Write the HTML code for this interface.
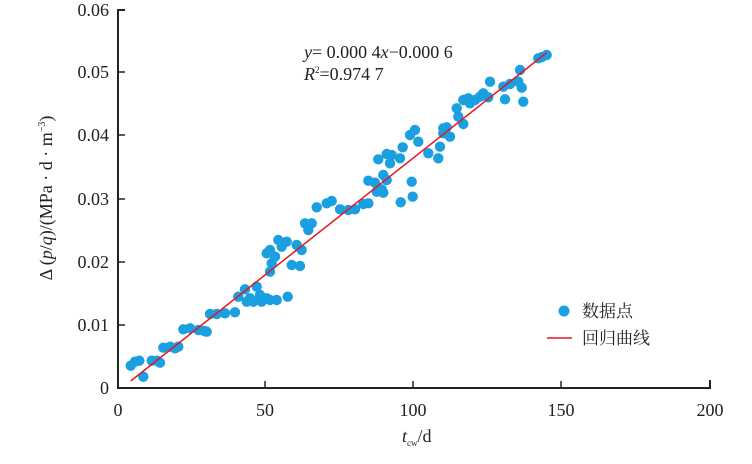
<!DOCTYPE html>
<html><head><meta charset="utf-8"><style>
body{margin:0;background:#fff;}
svg{display:block;font-family:"Liberation Serif","Noto Serif CJK SC",serif;}
</style></head><body>
<svg width="752" height="464" viewBox="0 0 752 464" xmlns="http://www.w3.org/2000/svg">
<g fill="#1a9fe0">
<circle cx="130.7" cy="365.7" r="5.2"/><circle cx="135" cy="361.7" r="5.2"/><circle cx="139.3" cy="360.7" r="5.2"/><circle cx="143.3" cy="376.7" r="5.2"/>
<circle cx="151.7" cy="360.7" r="5.2"/><circle cx="160" cy="362.7" r="5.2"/><circle cx="163.3" cy="347.7" r="5.2"/><circle cx="170" cy="346.7" r="5.2"/>
<circle cx="178.3" cy="346.7" r="5.2"/><circle cx="183.3" cy="329.3" r="5.2"/><circle cx="190" cy="328.3" r="5.2"/><circle cx="198.3" cy="330" r="5.2"/>
<circle cx="204.3" cy="331" r="5.2"/><circle cx="210" cy="314" r="5.2"/><circle cx="216.7" cy="314" r="5.2"/><circle cx="225" cy="313.3" r="5.2"/>
<circle cx="235" cy="312.3" r="5.2"/><circle cx="238.3" cy="296.7" r="5.2"/><circle cx="245" cy="289.3" r="5.2"/><circle cx="250" cy="298.3" r="5.2"/>
<circle cx="256.7" cy="286.7" r="5.2"/><circle cx="260" cy="295" r="5.2"/><circle cx="270" cy="300" r="5.2"/><circle cx="276.7" cy="300" r="5.2"/>
<circle cx="287.7" cy="296.7" r="5.2"/><circle cx="266.7" cy="298.3" r="5.2"/><circle cx="270" cy="271.7" r="5.2"/><circle cx="271.7" cy="263.3" r="5.2"/>
<circle cx="275" cy="256.7" r="5.2"/><circle cx="270" cy="250" r="5.2"/><circle cx="278.3" cy="240" r="5.2"/><circle cx="286.7" cy="241.7" r="5.2"/>
<circle cx="296.7" cy="245" r="5.2"/><circle cx="301.7" cy="250" r="5.2"/><circle cx="291.7" cy="265" r="5.2"/><circle cx="300" cy="266" r="5.2"/>
<circle cx="305" cy="223.3" r="5.2"/><circle cx="311.7" cy="223.3" r="5.2"/><circle cx="308.3" cy="230" r="5.2"/><circle cx="316.7" cy="207.3" r="5.2"/>
<circle cx="326.7" cy="203.3" r="5.2"/><circle cx="331.7" cy="201" r="5.2"/><circle cx="340" cy="209.3" r="5.2"/><circle cx="348.3" cy="210" r="5.2"/>
<circle cx="355" cy="209.3" r="5.2"/><circle cx="363.3" cy="204" r="5.2"/><circle cx="368.3" cy="203.3" r="5.2"/><circle cx="368.3" cy="180.7" r="5.2"/>
<circle cx="375" cy="182.7" r="5.2"/><circle cx="376.7" cy="191.7" r="5.2"/><circle cx="381.7" cy="189.3" r="5.2"/><circle cx="383.3" cy="175" r="5.2"/>
<circle cx="386.7" cy="180" r="5.2"/><circle cx="378.3" cy="159.3" r="5.2"/><circle cx="386.7" cy="154" r="5.2"/><circle cx="391.7" cy="155" r="5.2"/>
<circle cx="390" cy="163.3" r="5.2"/><circle cx="400" cy="158.3" r="5.2"/><circle cx="402.7" cy="147.3" r="5.2"/><circle cx="400.7" cy="202.3" r="5.2"/>
<circle cx="411.7" cy="181.7" r="5.2"/><circle cx="412.7" cy="196.7" r="5.2"/><circle cx="410" cy="135" r="5.2"/><circle cx="415" cy="130" r="5.2"/>
<circle cx="418.3" cy="141.7" r="5.2"/><circle cx="428.3" cy="153.3" r="5.2"/><circle cx="438.3" cy="158.3" r="5.2"/><circle cx="440" cy="146.7" r="5.2"/>
<circle cx="443.3" cy="128.3" r="5.2"/><circle cx="446.7" cy="127.3" r="5.2"/><circle cx="450" cy="136.7" r="5.2"/><circle cx="456.7" cy="108.3" r="5.2"/>
<circle cx="458.3" cy="116.7" r="5.2"/><circle cx="463.3" cy="124" r="5.2"/><circle cx="463.3" cy="100" r="5.2"/><circle cx="468.3" cy="98.3" r="5.2"/>
<circle cx="470" cy="103.3" r="5.2"/><circle cx="480" cy="96.7" r="5.2"/><circle cx="483.3" cy="93.3" r="5.2"/><circle cx="490" cy="81.7" r="5.2"/>
<circle cx="488.3" cy="97.3" r="5.2"/><circle cx="503.3" cy="86.7" r="5.2"/><circle cx="505" cy="99.3" r="5.2"/><circle cx="510" cy="84" r="5.2"/>
<circle cx="518.3" cy="81.7" r="5.2"/><circle cx="520" cy="70" r="5.2"/><circle cx="521.7" cy="87.7" r="5.2"/><circle cx="523.3" cy="101.7" r="5.2"/>
<circle cx="538.3" cy="58.3" r="5.2"/><circle cx="546.7" cy="55" r="5.2"/><circle cx="542" cy="57" r="5.2"/>
<circle cx="246.7" cy="301.7" r="5.2"/><circle cx="253.3" cy="301.7" r="5.2"/><circle cx="261.7" cy="301.7" r="5.2"/><circle cx="281.7" cy="246.7" r="5.2"/>
<circle cx="266.7" cy="253.3" r="5.2"/><circle cx="206.7" cy="331.7" r="5.2"/><circle cx="175" cy="348.3" r="5.2"/><circle cx="156.7" cy="360.7" r="5.2"/>
<circle cx="383.3" cy="192.7" r="5.2"/><circle cx="443.3" cy="133.3" r="5.2"/><circle cx="475" cy="100" r="5.2"/>
</g>
<line x1="130.7" y1="381" x2="546.7" y2="52.7" stroke="#e8141e" stroke-width="1.5"/>
<path d="M125 10 H118 V388 H710 V380" fill="none" stroke="#222" stroke-width="2"/>
<g stroke="#222" stroke-width="1.5">
<line x1="118" y1="72" x2="125" y2="72"/><line x1="118" y1="135" x2="125" y2="135"/>
<line x1="118" y1="199" x2="125" y2="199"/><line x1="118" y1="262" x2="125" y2="262"/>
<line x1="118" y1="325" x2="125" y2="325"/>
<line x1="265" y1="388" x2="265" y2="381"/><line x1="413" y1="388" x2="413" y2="381"/>
<line x1="561" y1="388" x2="561" y2="381"/>
</g>
<g font-size="18" fill="#222" text-anchor="end">
<text x="109" y="16">0.06</text><text x="109" y="78">0.05</text><text x="109" y="141">0.04</text>
<text x="109" y="205">0.03</text><text x="109" y="268">0.02</text><text x="109" y="331">0.01</text>
<text x="109" y="394">0</text>
</g>
<g font-size="18" fill="#222" text-anchor="middle">
<text x="118" y="416">0</text><text x="265" y="416">50</text><text x="413" y="416">100</text>
<text x="561" y="416">150</text><text x="710" y="416">200</text>
</g>
<text x="402" y="442" font-size="18" fill="#222"><tspan font-style="italic">t</tspan><tspan font-size="9" dy="4">cw</tspan><tspan dy="-4">/d</tspan></text>
<text transform="translate(52,198) rotate(-90)" font-size="18" fill="#222" text-anchor="middle">Δ (<tspan font-style="italic">p</tspan>/<tspan font-style="italic">q</tspan>)/(MPa · d · m<tspan font-size="10" dy="-7">−3</tspan><tspan dy="7">)</tspan></text>
<text x="304" y="58" font-size="18" fill="#222"><tspan font-style="italic">y</tspan>= 0.000 4<tspan font-style="italic">x</tspan>−0.000 6</text>
<text x="304" y="80" font-size="18" fill="#222"><tspan font-style="italic">R</tspan><tspan font-size="9" dy="-7">2</tspan><tspan dy="7">=0.974 7</tspan></text>
<circle cx="564" cy="311" r="5.5" fill="#1a9fe0"/>
<text x="582" y="317" font-size="17" fill="#222">数据点</text>
<line x1="547" y1="338" x2="572" y2="338" stroke="#e8141e" stroke-width="1.5"/>
<text x="582" y="344" font-size="17" fill="#222">回归曲线</text>
</svg>
</body></html>
